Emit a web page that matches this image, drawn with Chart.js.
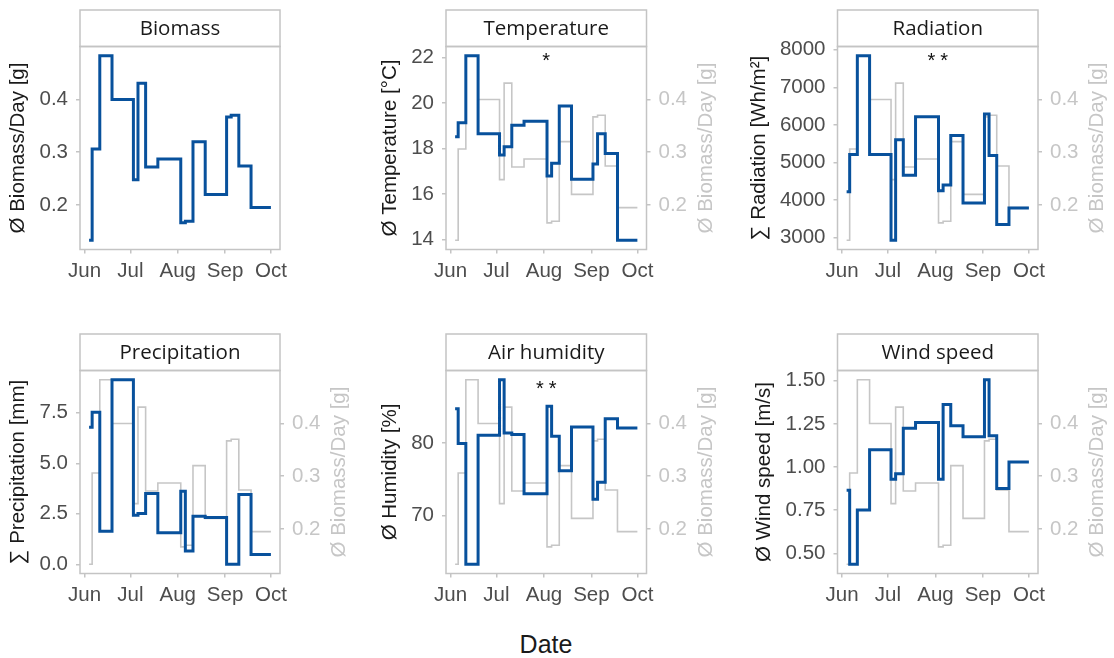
<!DOCTYPE html>
<html lang="en">
<head>
<meta charset="UTF-8">
<title>Biomass and weather</title>
<script src="https://cdn.jsdelivr.net/npm/chart.js"></script>
<style>
  body { margin: 0; background: #fff; width: 1114px; height: 658px; position: relative; overflow: hidden; }
  .panel { position: absolute; }
  #xlabel { position: absolute; left: 446px; width: 200px; top: 630px; text-align: center;
            font: 25px "Liberation Sans", Arial, sans-serif; color: #1a1a1a; }
</style>
</head>
<body>
<div class="panel" style="left:0px;top:0px"><canvas id="c1" width="370" height="300"></canvas></div>
<div class="panel" style="left:370px;top:0px"><canvas id="c2" width="370" height="300"></canvas></div>
<div class="panel" style="left:740px;top:0px"><canvas id="c3" width="374" height="300"></canvas></div>
<div class="panel" style="left:0px;top:324px"><canvas id="c4" width="370" height="300"></canvas></div>
<div class="panel" style="left:370px;top:324px"><canvas id="c5" width="370" height="300"></canvas></div>
<div class="panel" style="left:740px;top:324px"><canvas id="c6" width="374" height="300"></canvas></div>
<div id="xlabel">Date</div>
<script>
// sampling dates; each value holds until the next date
const sampleDates = ['2021-06-04', '2021-06-06', '2021-06-11', '2021-06-19', '2021-07-03', '2021-07-06',
  '2021-07-11', '2021-07-19', '2021-08-03', '2021-08-06', '2021-08-11', '2021-08-19',
  '2021-09-02', '2021-09-05', '2021-09-10', '2021-09-18', '2021-10-01'];

const biomass = [0.133, 0.306, 0.483, 0.400, 0.248, 0.431, 0.272, 0.287, 0.166, 0.169, 0.320, 0.220, 0.367, 0.370, 0.274, 0.195];
const temperature = [18.51, 19.13, 22.07, 18.65, 17.71, 18.07, 19.02, 19.19, 16.79, 17.35, 19.86, 16.65, 17.32, 18.65, 17.78, 13.97];
const radiation = [4219, 5211, 7842, 5211, 2930, 5605, 4658, 6219, 4246, 4404, 5719, 3921, 6289, 5184, 3351, 3789];
const precipitation = [6.79, 7.53, 1.64, 9.14, 2.43, 2.52, 3.50, 1.56, 3.62, 0.66, 2.38, 2.32, 0.00, 0.00, 3.45, 0.49];
const humidity = [84.68, 79.91, 63.32, 81.05, 88.68, 81.36, 81.14, 73.00, 85.05, 80.91, 76.18, 82.18, 72.27, 74.59, 83.32, 82.05];
const windSpeed = [0.866, 0.437, 0.752, 1.101, 0.929, 0.962, 1.225, 1.258, 0.929, 1.363, 1.239, 1.176, 1.506, 1.181, 0.876, 1.029];

const monthTicks = ['2021-06-01', '2021-07-01', '2021-08-01', '2021-09-01', '2021-10-01'];
const monthLabels = ['Jun', 'Jul', 'Aug', 'Sep', 'Oct'];
const biomassTicks = [0.2, 0.3, 0.4];
const temperatureTicks = [14, 16, 18, 20, 22];
const radiationTicks = [3000, 4000, 5000, 6000, 7000, 8000];
const precipitationTicks = [0, 2.5, 5, 7.5];
const humidityTicks = [70, 80];
const windTicks = [0.5, 0.75, 1, 1.25, 1.5];

const blue = '#08519c';
const lightGrey = '#c6c6c6';
const frameColor = '#c4c4c4';
const textDark = '#4d4d4d';
const fontFamily = '"Liberation Sans", Arial, sans-serif';
const tickFont = { family: fontFamily, size: 20.5 };

const dayOf = s => (Date.parse(s) - Date.parse('2021-06-01')) / 864e5;
const sampleDays = sampleDates.map(dayOf);

// ggplot-style 5% expansion of the data range
function padRange(vals) {
  const lo = Math.min(...vals), hi = Math.max(...vals), pad = (hi - lo) * 0.05;
  return [lo - pad, hi + pad];
}

function stepPoints(values) {
  return sampleDays.map((d, i) => ({ x: d, y: values[Math.min(i, values.length - 1)] }));
}

const panels = [
  { id: 'c1', title: 'Biomass', yTitle: 'Ø Biomass/Day [g]', values: biomass, ticks: biomassTicks, digits: 1, leftW: 80, rightW: 90, twin: false },
  { id: 'c2', title: 'Temperature', yTitle: 'Ø Temperature [°C]', values: temperature, ticks: temperatureTicks, digits: 0, leftW: 76, rightW: 93.5, twin: true, sig: '*', sigAt: 22 },
  { id: 'c3', title: 'Radiation', yTitle: '∑ Radiation [Wh/m²]', values: radiation, ticks: radiationTicks, digits: 0, leftW: 97.5, rightW: 76, twin: true, sig: '**', sigAt: 7800 },
  { id: 'c4', title: 'Precipitation', yTitle: '∑ Precipitation [mm]', values: precipitation, ticks: precipitationTicks, digits: 1, leftW: 80, rightW: 90, twin: true },
  { id: 'c5', title: 'Air humidity', yTitle: 'Ø Humidity [%]', values: humidity, ticks: humidityTicks, digits: 0, leftW: 76, rightW: 93.5, twin: true, sig: '**', sigAt: 88 },
  { id: 'c6', title: 'Wind speed', yTitle: 'Ø Wind speed [m/s]', values: windSpeed, ticks: windTicks, digits: 2, leftW: 97.5, rightW: 76, twin: true },
];

// strip header, panel frame, axis titles and significance marks
const facetFrame = {
  id: 'facetFrame',
  afterDraw(chart, args, o) {
    const { ctx, chartArea: a } = chart;
    const stripH = 36.5;
    ctx.save();
    ctx.strokeStyle = frameColor;
    ctx.lineWidth = 1.5;
    ctx.strokeRect(a.left, a.top - stripH, a.right - a.left, stripH);
    ctx.strokeRect(a.left, a.top, a.right - a.left, a.bottom - a.top);

    ctx.fillStyle = '#1a1a1a';
    ctx.font = '20.5px "Open Sans", sans-serif';
    ctx.textAlign = 'center';
    ctx.textBaseline = 'middle';
    ctx.fillText(o.title, (a.left + a.right) / 2, a.top - stripH / 2 + 1);

    const midY = (a.top + a.bottom) / 2;
    ctx.font = '20.5px ' + fontFamily;
    const widest = s => Math.max(...s.ticks.map(t => ctx.measureText(t.label).width));

    const y = chart.scales.y;
    ctx.save();
    ctx.translate(a.left - 12 - widest(y) - 21, midY);
    ctx.rotate(-Math.PI / 2);
    ctx.fillStyle = '#1a1a1a';
    ctx.fillText(o.yTitle, 0, 0);
    ctx.restore();

    if (chart.scales.y2) {
      const y2 = chart.scales.y2;
      ctx.save();
      ctx.translate(a.right + 12 + widest(y2) + 19, midY);
      ctx.rotate(-Math.PI / 2);
      ctx.fillStyle = lightGrey;
      ctx.fillText('Ø Biomass/Day [g]', 0, 0);
      ctx.restore();
    }

    if (o.sig) {
      ctx.font = '20px ' + fontFamily;
      ctx.letterSpacing = '5px';
      ctx.fillStyle = '#111';
      ctx.textBaseline = 'alphabetic';
      const m = ctx.measureText(o.sig);
      const yc = y.getPixelForValue(o.sigAt);
      const base = yc + (m.actualBoundingBoxAscent - m.actualBoundingBoxDescent) / 2;
      ctx.fillText(o.sig, (a.left + a.right) / 2 + 2.5, base);
    }
    ctx.restore();
  }
};

function yScale(position, values, ticks, digits, color, width) {
  const [lo, hi] = padRange(values);
  return {
    position, min: lo, max: hi,
    afterBuildTicks: s => { s.ticks = ticks.map(v => ({ value: v })); },
    afterFit: s => { s.width = width; },
    ticks: { color, font: tickFont, padding: 8, autoSkip: false, callback: v => v.toFixed(digits) },
    grid: { drawOnChartArea: false, drawTicks: true, tickLength: 4, color: frameColor, lineWidth: 1.5 },
    border: { display: false },
  };
}

const [xMin, xMax] = padRange(sampleDays);
const monthDays = monthTicks.map(dayOf);

panels.forEach(p => {
  const datasets = [{
    data: stepPoints(p.values), yAxisID: 'y', borderColor: blue, borderWidth: 3,
    stepped: 'before', pointRadius: 0, fill: false, order: 0, borderJoinStyle: 'miter'
  }];
  const scales = {
    x: {
      type: 'linear', min: xMin, max: xMax,
      afterBuildTicks: s => { s.ticks = monthDays.map(v => ({ value: v })); },
      afterFit: s => { s.height = 50.5; },
      ticks: { color: textDark, font: tickFont, padding: 6, maxRotation: 0, autoSkip: false,
               callback: (v, i) => monthLabels[i] },
      grid: { drawOnChartArea: false, drawTicks: true, tickLength: 4, color: frameColor, lineWidth: 1.5 },
      border: { display: false },
    },
    y: yScale('left', p.values, p.ticks, p.digits, textDark, p.leftW),
  };
  if (p.twin) {
    datasets.push({
      data: stepPoints(biomass), yAxisID: 'y2', borderColor: lightGrey, borderWidth: 1.6,
      stepped: 'before', pointRadius: 0, fill: false, order: 1
    });
    scales.y2 = yScale('right', biomass, biomassTicks, 1, lightGrey, p.rightW);
  }
  new Chart(document.getElementById(p.id), {
    type: 'line',
    data: { datasets },
    options: {
      responsive: false,
      animation: false,
      layout: { padding: { top: 46.5, left: 0, bottom: 0, right: p.twin ? 0 : p.rightW } },
      plugins: {
        legend: { display: false },
        tooltip: { enabled: false },
        facetFrame: { title: p.title, yTitle: p.yTitle, sig: p.sig, sigAt: p.sigAt },
      },
      scales,
    },
    plugins: [facetFrame],
  });
});
</script>
</body>
</html>
